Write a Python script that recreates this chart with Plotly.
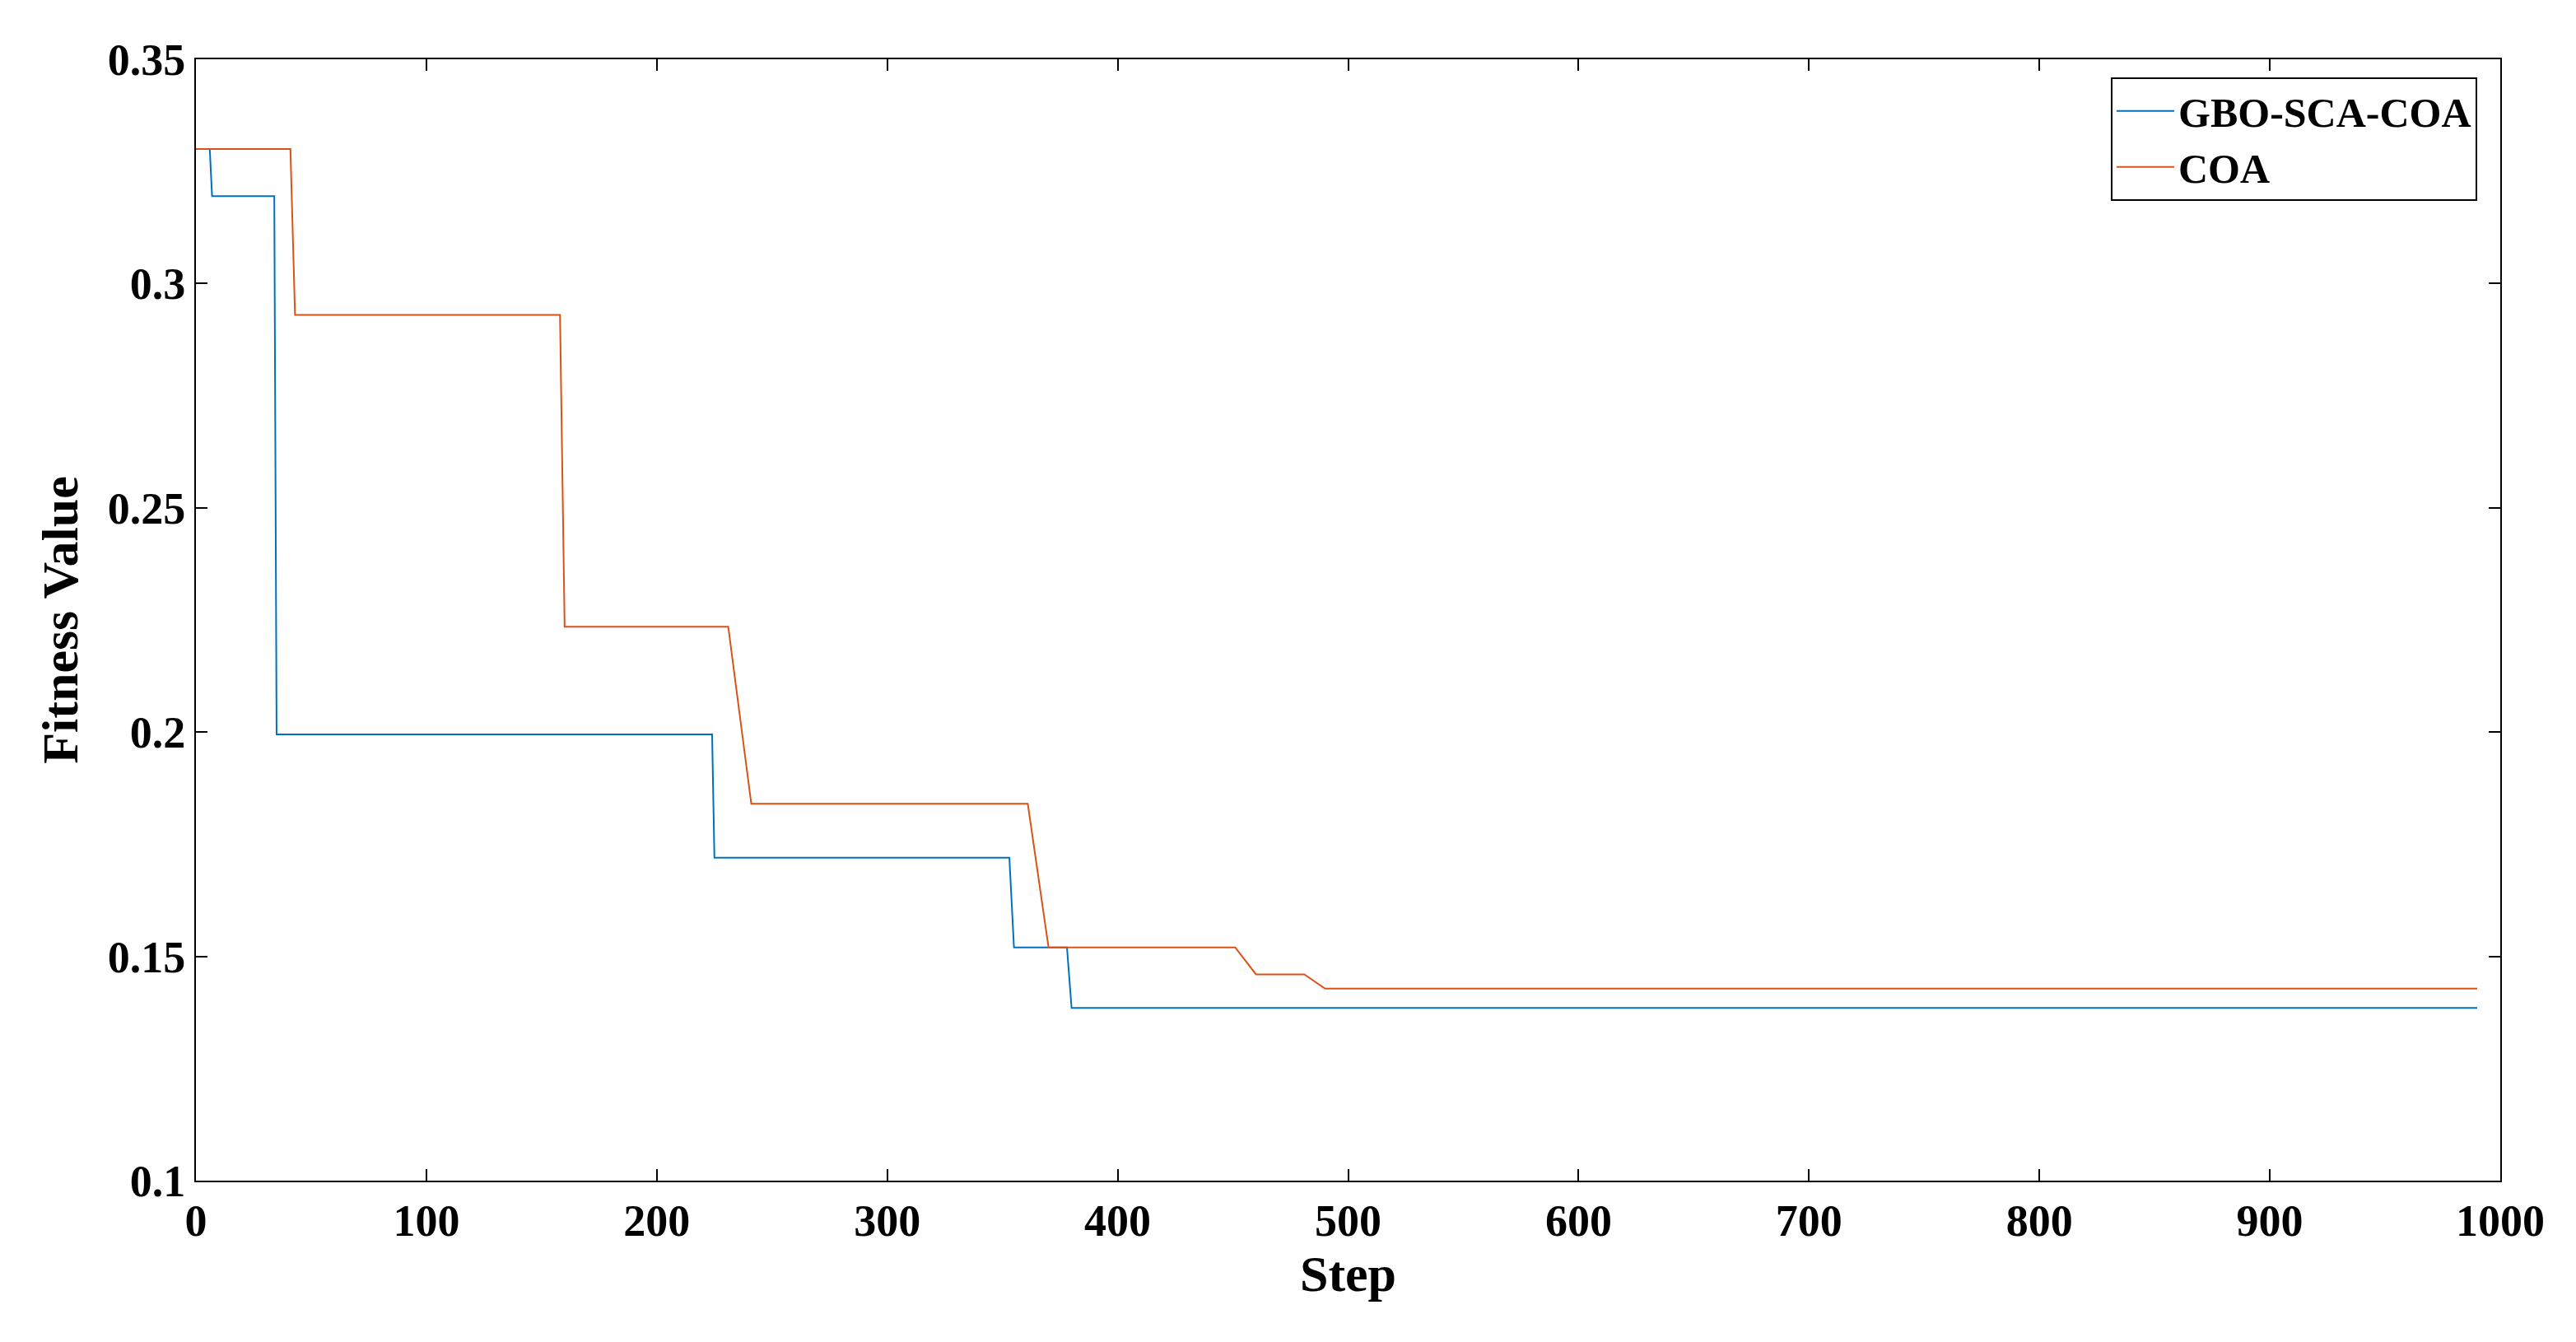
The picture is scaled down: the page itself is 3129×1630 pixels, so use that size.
import plotly.graph_objects as go

# GBO-SCA-COA convergence curve (step, fitness)
gbo_step = [0, 6, 7, 34, 35, 224, 225, 353, 355, 378, 380, 990]
gbo_fit = [0.330, 0.330, 0.3195, 0.3195, 0.1995, 0.1995, 0.172, 0.172, 0.152, 0.152, 0.1385, 0.1385]

# COA convergence curve
coa_step = [0, 41, 43, 158, 160, 231, 241, 361, 370, 451, 460, 481, 490, 990]
coa_fit = [0.330, 0.330, 0.293, 0.293, 0.2235, 0.2235, 0.184, 0.184, 0.152, 0.152, 0.146, 0.146, 0.1428, 0.1428]

font_name = "Liberation Serif"

fig = go.Figure()
fig.add_trace(go.Scatter(x=gbo_step, y=gbo_fit, mode="lines", name="<b>GBO-SCA-COA</b>",
                         line=dict(color="#0072BD", width=2)))
fig.add_trace(go.Scatter(x=coa_step, y=coa_fit, mode="lines", name="<b>COA</b>",
                         line=dict(color="#D95319", width=2)))

axis_common = dict(showline=True, linecolor="black", linewidth=2, mirror="ticks",
                   ticks="inside", ticklen=14, tickwidth=2, tickcolor="black",
                   showgrid=False, zeroline=False,
                   tickfont=dict(family=font_name, size=54, color="black"))

fig.update_layout(
    width=3129, height=1630,
    margin=dict(l=230, r=100, t=64, b=204),
    plot_bgcolor="white", paper_bgcolor="white",
    font=dict(family=font_name, color="black"),
    xaxis=dict(range=[0, 1000], dtick=100,
               title=dict(text="<b>Step</b>", font=dict(family=font_name, size=62), standoff=8),
               tickprefix="<b>", ticksuffix="</b>", **axis_common),
    yaxis=dict(range=[0.1, 0.35], tickvals=[0.1, 0.15, 0.2, 0.25, 0.3, 0.35],
               ticktext=["<b>0.1</b>", "<b>0.15</b>", "<b>0.2</b>", "<b>0.25</b>", "<b>0.3</b>", "<b>0.35</b>"],
               title=dict(text="<b>Fitness Value</b>", font=dict(family=font_name, size=62), standoff=16),
               **axis_common),
    legend=dict(x=0.99, y=0.984, xanchor="right", yanchor="top",
                bgcolor="white", bordercolor="black", borderwidth=2,
                font=dict(family=font_name, size=50, color="black"),
                itemwidth=70),
)

fig.write_html("out.html")
